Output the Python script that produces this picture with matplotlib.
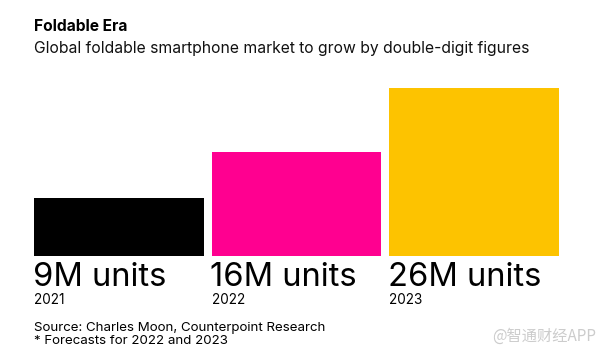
import matplotlib
matplotlib.use("Agg")
import matplotlib.pyplot as plt

# data
years = ["2021", "2022", "2023"]
units = [9, 16, 26]
labels = ["9M units", "16M units", "26M units"]
colors = ["#000000", "#ff0090", "#fdc300"]

W, H = 609, 356
plt.rcParams["font.family"] = ["Inter", "DejaVu Sans"]

fig = plt.figure(figsize=(W / 100, H / 100), dpi=100)


def fx(px):
    return px / W


def fy(py):
    return 1 - py / H


# bar area: left 34, right 559, bottom 256, top of tallest bar 87.5
ax = fig.add_axes([fx(34), fy(256), fx(559 - 34), (256 - 87.5) / H])
width = 170 / 178
x = range(len(units))
ax.bar(x, units, width=width, color=colors, linewidth=0)
ax.set_xlim(-width / 2, len(units) - 1 + width / 2)
ax.set_ylim(0, max(units))
ax.axis("off")

for i, (lab, yr) in enumerate(zip(labels, years)):
    ax.annotate(lab, (i - width / 2, 0), xytext=(-1, -30 * 0.72),
                textcoords="offset points", ha="left", va="baseline",
                fontsize=23.5, color="black")
    ax.annotate(yr, (i - width / 2, 0), xytext=(0, -48 * 0.72),
                textcoords="offset points", ha="left", va="baseline",
                fontsize=9.8, color="black")

fig.text(fx(34), fy(30.7), "Foldable Era", fontsize=11.2, fontweight="bold",
         ha="left", va="baseline")
fig.text(fx(34), fy(53.3), "Global foldable smartphone market to grow by double-digit figures",
         fontsize=11.3, ha="left", va="baseline", color="#111111")

fig.text(fx(34), fy(330.7), "Source: Charles Moon, Counterpoint Research",
         fontsize=9.6, ha="left", va="baseline")
fig.text(fx(34), fy(344.5), "* Forecasts for 2022 and 2023",
         fontsize=9.6, ha="left", va="baseline")

fig.text(fx(596), fy(341), "@智通财经APP", fontsize=11, ha="right", va="baseline",
         color="#cccccc", family=["Noto Sans CJK SC", "DejaVu Sans"])

fig.savefig("out.png", dpi=100)
